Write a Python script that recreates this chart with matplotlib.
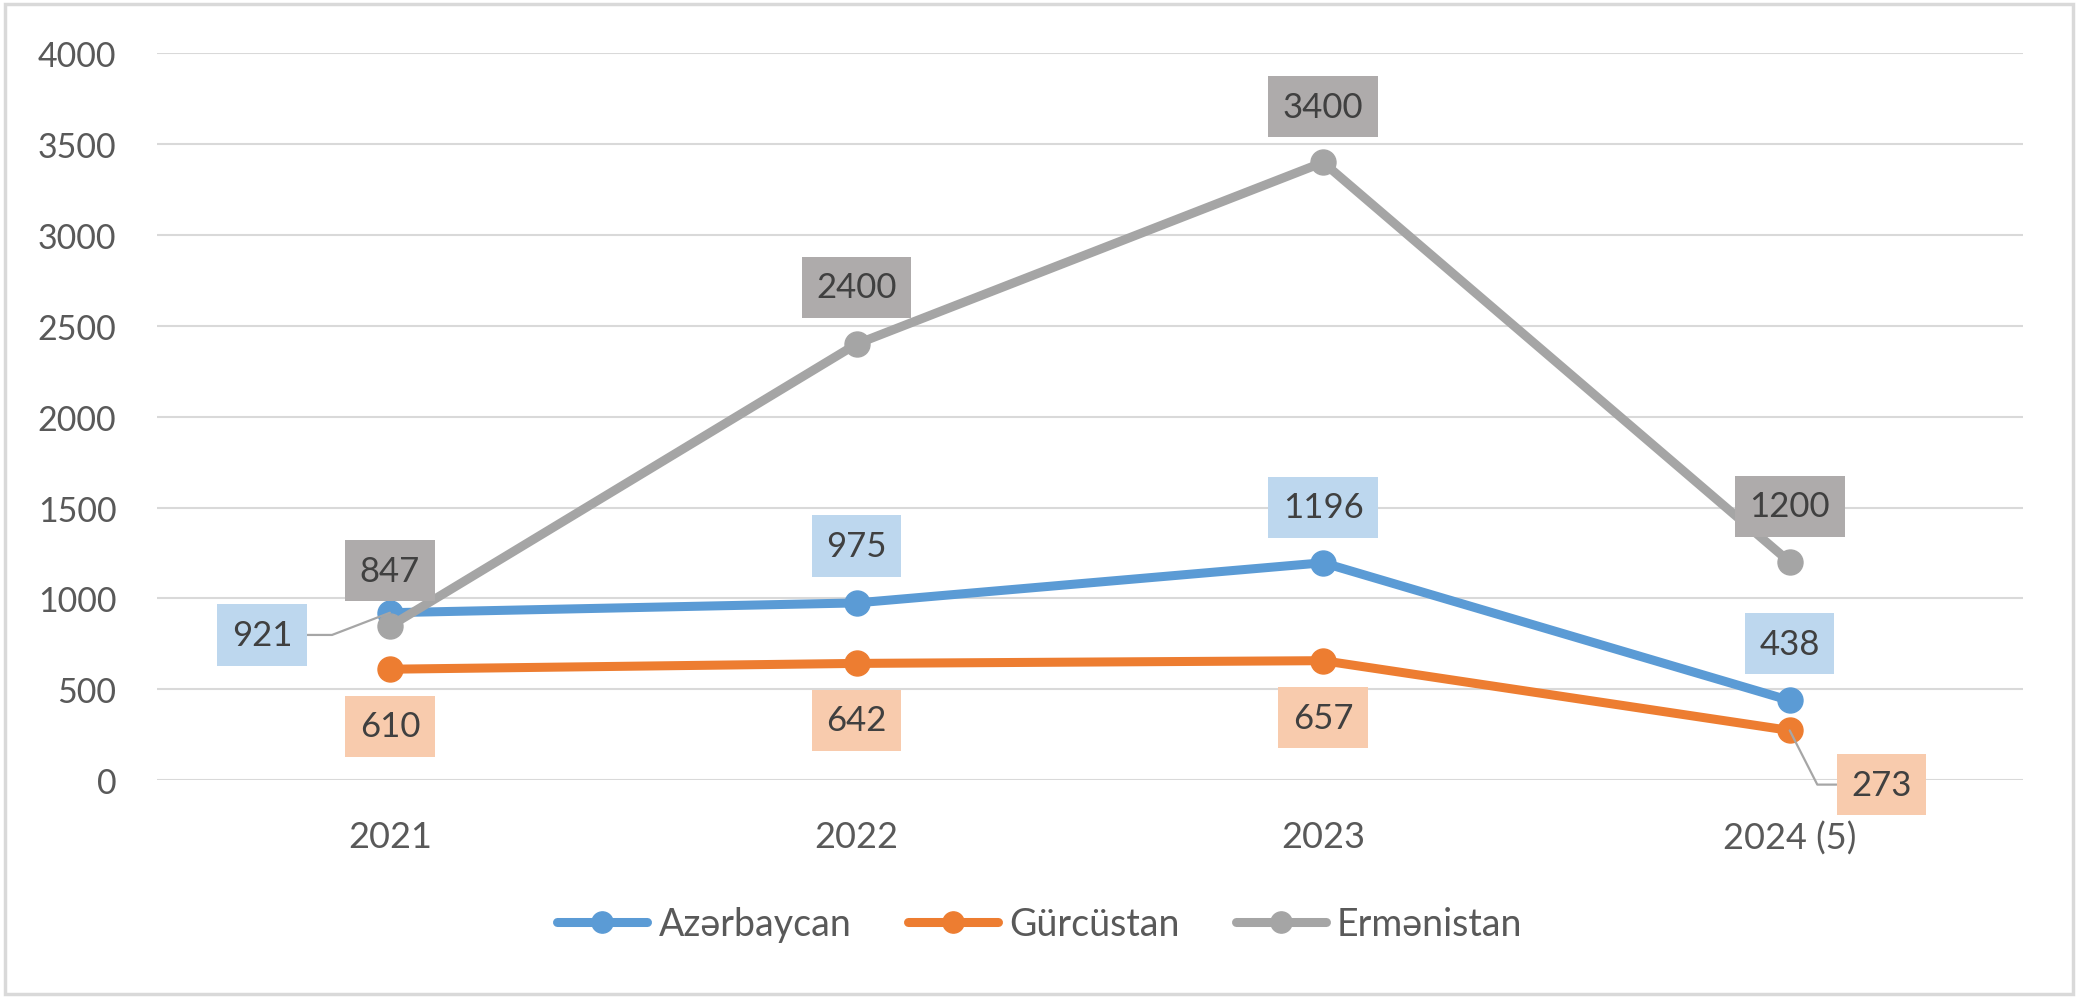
import matplotlib.pyplot as plt
from matplotlib.patches import Rectangle

plt.rcParams['font.family'] = ['Lato', 'DejaVu Sans']

# dati
anni = ["2021", "2022", "2023", "2024 (5)"]
azerbaycan = [921, 975, 1196, 438]
gurcustan = [610, 642, 657, 273]
ermenistan = [847, 2400, 3400, 1200]

serie = [
    ("Azərbaycan", azerbaycan, "#5B9BD5", "#BDD7EE"),
    ("Gürcüstan", gurcustan, "#ED7D31", "#F8CBAD"),
    ("Ermənistan", ermenistan, "#A5A5A5", "#AEABAB"),
]

# offset delle etichette (punti) per ogni serie/anno
offset_az = [(-92, -16), (0, 41), (0, 40), (0, 41)]
offset_gu = [(0, -41), (0, -41), (0, -41), (66, -39)]
offset_er = [(0, 40), (0, 41), (0, 40), (0, 40)]
offsets = [offset_az, offset_gu, offset_er]

fig = plt.figure(figsize=(20.8, 10.03), dpi=100)
ax = fig.add_axes([0.0753, 0.2213, 0.8973, 0.7245])

x = list(range(len(anni)))
for nome, valori, col, _ in serie:
    ax.plot(x, valori, color=col, lw=6.5, marker="o", ms=18, label=nome,
            solid_capstyle="round", zorder=3)

for (nome, valori, col, box), off in zip(serie, offsets):
    for i, v in enumerate(valori):
        kw = {}
        if abs(off[i][0]) > 20:
            # etichetta spostata: linea guida
            angB = 21 if off[i][0] < 0 else 117
            kw["arrowprops"] = dict(arrowstyle="-", color="#A6A6A6", lw=1.6,
                                    connectionstyle=f"angle,angleA=0,angleB={angB},rad=0",
                                    shrinkA=0, shrinkB=0)
        ax.annotate(f"{v}", (i, v), xytext=off[i], textcoords="offset points",
                    ha="center", va="center", fontsize=25, color="#404040",
                    bbox=dict(boxstyle="square,pad=0.42", fc=box, ec="none"),
                    zorder=5, **kw)

ax.set_xlim(-0.5, 3.5)
ax.set_ylim(0, 4000)
ax.set_yticks(range(0, 4001, 500))
ax.set_xticks(x)
ax.set_xticklabels(anni)
ax.yaxis.grid(True, color="#D9D9D9", lw=1.5)
ax.set_axisbelow(True)
for s in ax.spines.values():
    s.set_visible(False)
ax.tick_params(axis="both", length=0, labelsize=24.5, labelcolor="#595959")
ax.tick_params(axis="x", labelsize=26)
ax.tick_params(axis="y", pad=29)
ax.tick_params(axis="x", pad=29)

fig.legend(loc="center", bbox_to_anchor=(0.5, 0.078), ncol=3, frameon=False,
           fontsize=27, labelcolor="#595959", handlelength=2.4,
           handletextpad=0.3, columnspacing=1.5, markerscale=0.85)

fig.patches.append(Rectangle((0.0024, 0.008), 0.9942, 0.987, transform=fig.transFigure,
                             fill=False, ec="#D9D9D9", lw=2.5))

fig.savefig("out.png", dpi=100)
